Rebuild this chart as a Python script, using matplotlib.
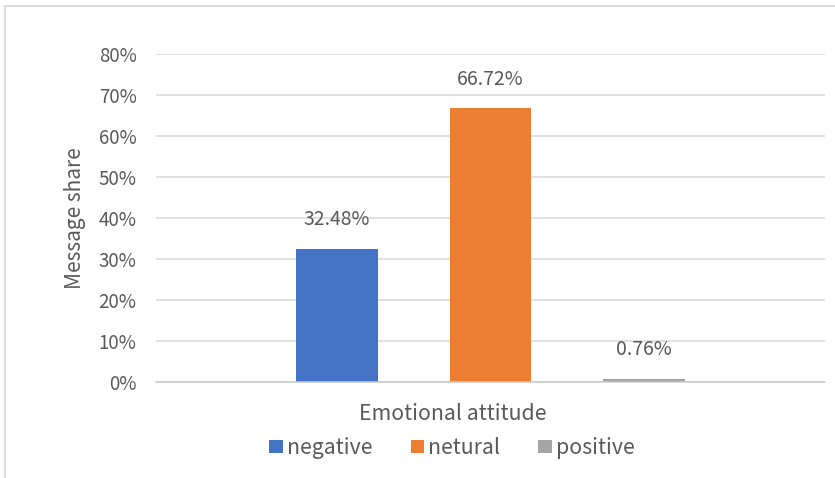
import matplotlib
matplotlib.use("Agg")
import matplotlib.pyplot as plt
from matplotlib.patches import Patch
from matplotlib.lines import Line2D

# Data
categories = ["negative", "netural", "positive"]
shares = [32.48, 66.72, 0.76]
colors = ["#4472C4", "#ED7D31", "#A5A5A5"]
y_ticks = [0, 10, 20, 30, 40, 50, 60, 70, 80]

plt.rcParams["font.family"] = ["Noto Sans CJK SC", "DejaVu Sans"]
text_color = "#595959"

W, H = 835, 478
fig = plt.figure(figsize=(W / 100, H / 100), dpi=100)

# plot area in pixel coords
left, right, top, bottom = 156, 825, 54, 382
ax = fig.add_axes([left / W, 1 - bottom / H, (right - left) / W, (bottom - top) / H])

xpos = [-1, 0, 1]
ax.bar(xpos, shares, width=0.528, color=colors, zorder=3)
ax.set_xlim(-2.179, 2.179)
ax.set_ylim(0, 80)

ax.set_yticks(y_ticks)
ax.set_yticklabels([f"{v}%" for v in y_ticks], fontsize=13.5, color=text_color, fontweight="light")
ax.set_xticks([])
ax.tick_params(axis="y", length=0, pad=14)
ax.yaxis.grid(True, color="#D9D9D9", linewidth=1.1, zorder=0)
ax.set_axisbelow(True)
for s in ["top", "right", "left"]:
    ax.spines[s].set_visible(False)
ax.spines["bottom"].set_color("#C8C8C8")
ax.spines["bottom"].set_linewidth(1.1)
ax.spines["bottom"].set_zorder(4)

for x, v in zip(xpos, shares):
    ax.annotate(f"{v:.2f}%", (x, v), xytext=(0, 21), textcoords="offset points",
                ha="center", va="center", fontsize=14, color=text_color, fontweight="light")

fig.text(75 / W, 1 - 218 / H, "Message share", rotation=90, ha="center", va="center",
         fontsize=15, color=text_color, fontweight="light")

fig.text(453 / W, 1 - 414 / H, "Emotional attitude", ha="center", va="center",
         fontsize=15.3, color=text_color, fontweight="light")

handles = [Patch(facecolor=c, edgecolor="none") for c in colors]
leg = fig.legend(handles, categories, loc="center", bbox_to_anchor=(452 / W, 1 - 448 / H),
                 ncol=3, frameon=False, fontsize=15.3, handlelength=0.62, handleheight=0.62,
                 handletextpad=0.2, columnspacing=1.8)
for t in leg.get_texts():
    t.set_color(text_color)
    t.set_fontweight("light")

# outer chart frame (partly cut off in the reference)
fig.add_artist(Line2D([4.5 / W, 1], [1 - 5.5 / H, 1 - 5.5 / H], color="#D9D9D9", linewidth=1.3,
                      transform=fig.transFigure))
fig.add_artist(Line2D([4.5 / W, 4.5 / W], [0, 1 - 5.5 / H], color="#D9D9D9", linewidth=1.3,
                      transform=fig.transFigure))

fig.savefig("out.png", dpi=100)
